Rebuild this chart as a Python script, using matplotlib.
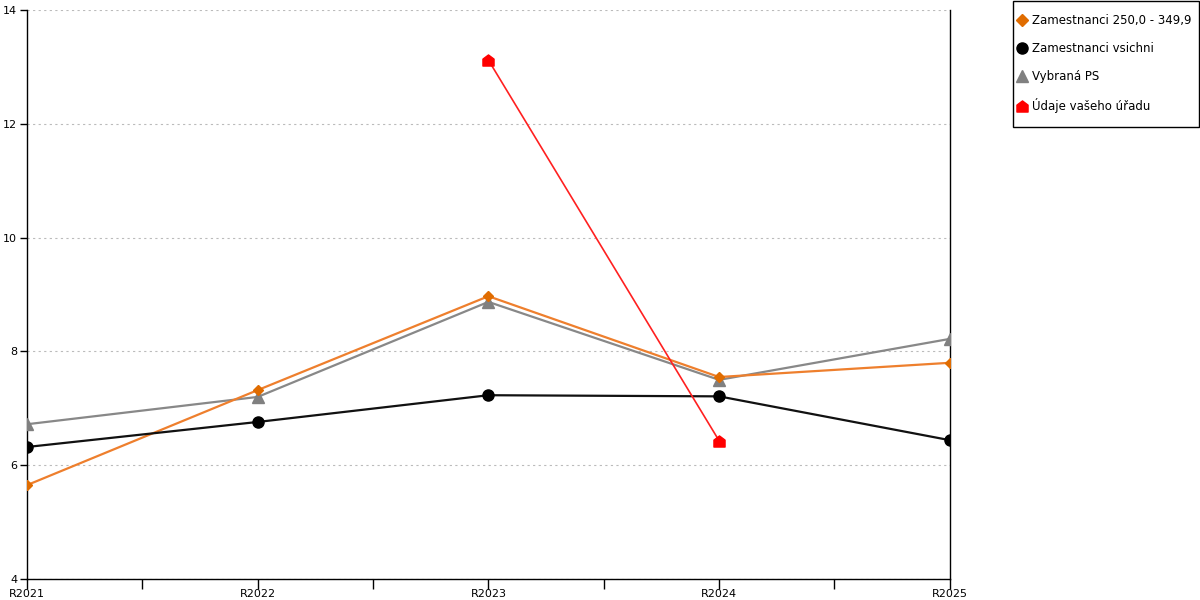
import matplotlib.pyplot as plt
import numpy as np
from matplotlib.lines import Line2D
from matplotlib.patches import Rectangle
from matplotlib.path import Path

# Data
years = ["R2021", "R2022", "R2023", "R2024", "R2025"]
zam_250 = [5.65, 7.32, 8.97, 7.55, 7.80]
zam_all = [6.32, 6.76, 7.23, 7.21, 6.44]
vybrana_ps = [6.72, 7.20, 8.87, 7.50, 8.22]
vas_urad = [np.nan, np.nan, 13.12, 6.43, np.nan]

labels = [
    "Zamestnanci 250,0 - 349,9",
    "Zamestnanci vsichni",
    "Vybraná PS",
    "Údaje vašeho úřadu",
]

# house-shaped marker for the red series
house = Path([(-1, -1), (1, -1), (1, 0.25), (0, 1), (-1, 0.25), (-1, -1)],
             [Path.MOVETO, Path.LINETO, Path.LINETO, Path.LINETO, Path.LINETO, Path.CLOSEPOLY])

plt.rcParams["font.family"] = "DejaVu Sans"

fig = plt.figure(figsize=(12, 6), dpi=100)
ax = fig.add_axes([0.0225, 0.035, 0.769, 0.9483])

x = np.arange(len(years))

ax.plot(x, vybrana_ps, color="#888888", lw=1.6, marker="^", ms=9,
        markerfacecolor="#808080", markeredgecolor="#808080", zorder=3)
ax.plot(x, zam_250, color="#EE7F2D", lw=1.6, marker="D", ms=5.5,
        markerfacecolor="#E06C00", markeredgecolor="#E06C00", zorder=4)
ax.plot(x, zam_all, color="#111111", lw=1.6, marker="o", ms=8,
        markerfacecolor="black", markeredgecolor="black", zorder=5)
ax.plot(x, vas_urad, color="#FF2020", lw=1.2, marker=house, ms=8,
        markerfacecolor="red", markeredgecolor="red", zorder=6)

ax.set_xlim(0, len(years) - 1)
ax.set_ylim(4, 14)
ax.set_yticks(np.arange(4, 15, 2))
ax.set_xticks(x)
ax.set_xticklabels(years)
ax.set_xticks(x[:-1] + 0.5, minor=True)

ax.yaxis.grid(True, linestyle=(0, (2, 3)), color="#bbbbbb", lw=0.8)
ax.set_axisbelow(True)

ax.spines["top"].set_visible(False)
for s in ["left", "bottom", "right"]:
    ax.spines[s].set_linewidth(1.0)
    ax.spines[s].set_color("black")

ax.tick_params(axis="y", direction="out", length=5, width=1, labelsize=8, pad=2)
ax.tick_params(axis="x", which="both", direction="out", length=7, width=1,
               labelsize=8, pad=0)

# legend box drawn separately so its padding matches the original
fig.patches.append(Rectangle((1013 / 1200, 473 / 600), 186 / 1200, 126 / 600,
                             transform=fig.transFigure, fill=False,
                             edgecolor="black", lw=1.0))

handles = [
    Line2D([], [], ls="none", marker="D", ms=6, color="#E06C00"),
    Line2D([], [], ls="none", marker="o", ms=8, color="black"),
    Line2D([], [], ls="none", marker="^", ms=9, color="#808080"),
    Line2D([], [], ls="none", marker=house, ms=8, color="red"),
]
fig.legend(handles, labels, loc="upper left",
           bbox_to_anchor=(1017.5 / 1200, 1 - 14 / 600), frameon=False,
           fontsize=8.5, handlelength=0.75, handletextpad=0.5,
           labelspacing=1.28, borderpad=0, borderaxespad=0)

fig.savefig("out.png", dpi=100)
